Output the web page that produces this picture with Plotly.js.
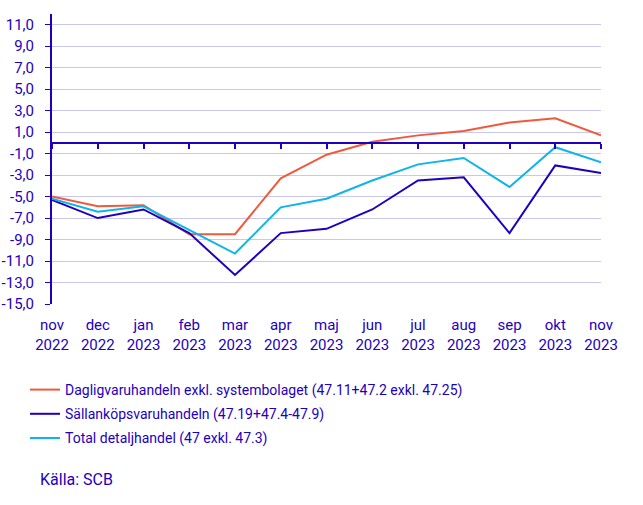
<!DOCTYPE html>
<html>
<head>
<meta charset="utf-8">
<script src="https://cdn.plot.ly/plotly-3.0.1.min.js"></script>
<style>html,body{margin:0;padding:0;background:#fff;}#chart{width:643px;height:505px;}</style>
</head>
<body>
<div id="chart"></div>
<script>
const months = ["nov<br>2022","dec<br>2022","jan<br>2023","feb<br>2023","mar<br>2023","apr<br>2023","maj<br>2023","jun<br>2023","jul<br>2023","aug<br>2023","sep<br>2023","okt<br>2023","nov<br>2023"];
const dagligvaru = [-5.0,-5.9,-5.8,-8.5,-8.5,-3.3,-1.1,0.1,0.7,1.1,1.9,2.3,0.7];
const sallankop = [-5.3,-7.0,-6.2,-8.4,-12.3,-8.4,-8.0,-6.2,-3.5,-3.2,-8.4,-2.1,-2.8];
const totalDetalj = [-5.2,-6.4,-5.9,-8.1,-10.3,-6.0,-5.2,-3.5,-2.0,-1.4,-4.1,-0.4,-1.8];
const seriesNames = ["Dagligvaruhandeln exkl. systembolaget (47.11+47.2 exkl. 47.25)","Sällanköpsvaruhandeln (47.19+47.4-47.9)","Total detaljhandel (47 exkl. 47.3)"];
const yTickVals = [11,9,7,5,3,1,-1,-3,-5,-7,-9,-11,-13,-15];
const yTickText = ["11,0","9,0","7,0","5,0","3,0","1,0","-1,0","-3,0","-5,0","-7,0","-9,0","-11,0","-13,0","-15,0"];
const sourceText = "Källa: SCB";

const textColor = "#1e00be";
const colors = ["#ef5a3c","#1e00be","#10b4e8"];
const idx = months.map((_, i) => i);
const allSeries = [dagligvaru, sallankop, totalDetalj];
const yMin = -15, yMax = 12;

const traces = allSeries.map((s, k) => ({
  x: idx, y: s, type: "scatter", mode: "lines", name: seriesNames[k],
  legendgroup: "g" + k,
  line: {color: colors[k], width: 2},
  hoverinfo: "skip"
}));
traces.push({x: idx, y: idx.map(() => null), xaxis: "x2", yaxis: "y", showlegend: false, hoverinfo: "skip", mode: "lines"});

const layout = {
  width: 643, height: 505,
  margin: {l: 52, r: 42, t: 14, b: 201},
  paper_bgcolor: "#fff", plot_bgcolor: "#fff",
  font: {family: "Roboto, sans-serif", size: 15, color: textColor},
  showlegend: true,
  legend: {
    x: -27 / 549, y: -70 / 290, xanchor: "left", yanchor: "top",
    orientation: "v", traceorder: "grouped", tracegroupgap: 3,
    font: {family: "Roboto, sans-serif", size: 14, color: textColor},
    bgcolor: "rgba(0,0,0,0)"
  },
  xaxis: {
    range: [0, 12], tickvals: idx, ticktext: months,
    showgrid: false, zeroline: false, showline: false, ticks: "",
    ticklabelstandoff: 10,
    tickfont: {size: 15, color: textColor}, fixedrange: true
  },
  xaxis2: {
    overlaying: "x", anchor: "free", position: (0 - yMin) / (yMax - yMin),
    range: [0, 12], tickvals: idx, showticklabels: false,
    showline: true, linecolor: textColor, linewidth: 2,
    ticks: "outside", ticklen: 5, tickwidth: 2, tickcolor: textColor,
    showgrid: false, zeroline: false, fixedrange: true
  },
  yaxis: {
    range: [yMin, yMax], tickvals: yTickVals, ticktext: yTickText,
    showgrid: true, gridcolor: "#c8c8f0", gridwidth: 1,
    zeroline: false, showline: true, linecolor: textColor, linewidth: 2,
    ticks: "outside", ticklen: 5, tickwidth: 1, tickcolor: textColor,
    ticklabelstandoff: 8,
    tickfont: {size: 15, color: textColor}, fixedrange: true
  },
  annotations: [{
    text: sourceText, xref: "paper", yref: "paper",
    x: -14 / 549, y: -176 / 290, xanchor: "left", yanchor: "middle",
    showarrow: false, font: {size: 16, color: textColor}
  }]
};

Plotly.newPlot("chart", traces, layout, {displayModeBar: false, staticPlot: true});
</script>
</body>
</html>
